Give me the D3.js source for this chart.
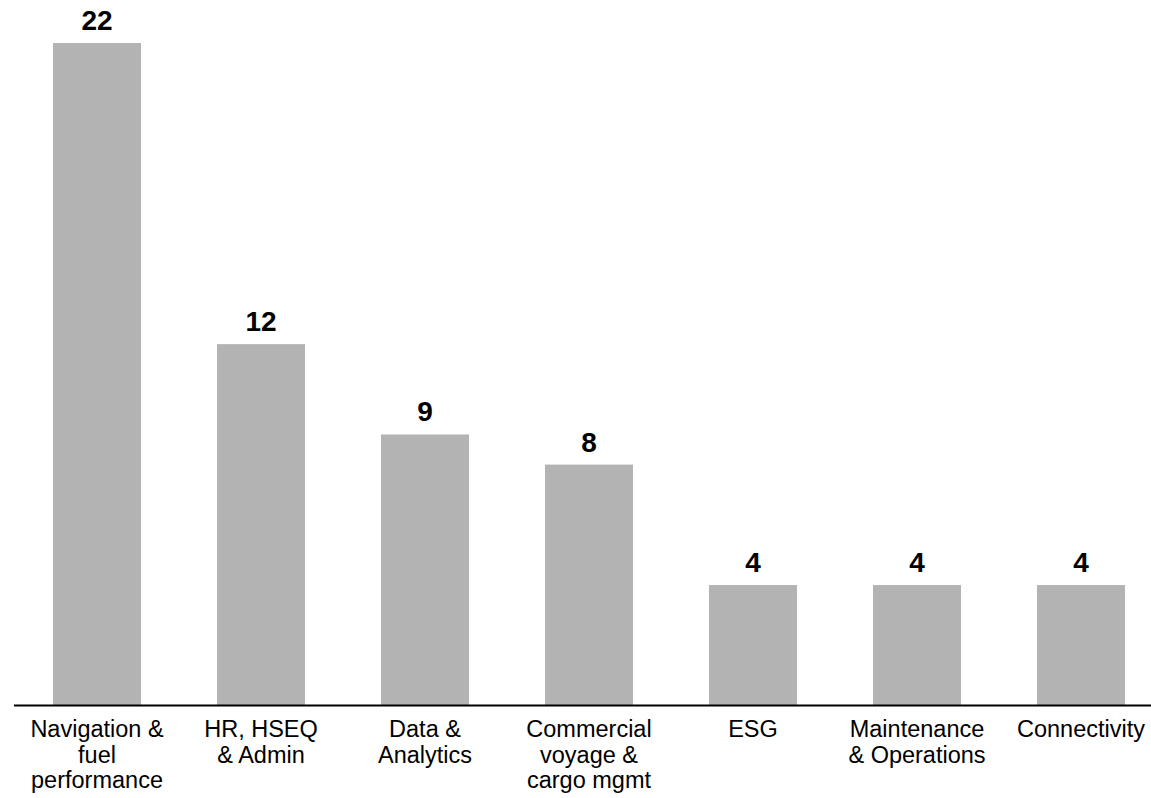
<!DOCTYPE html>
<html>
<head>
<meta charset="utf-8">
<script src="https://cdn.jsdelivr.net/npm/d3@7"></script>
<style>
  html, body { margin: 0; padding: 0; background: #fff; }
  svg { display: block; }
  text { font-family: "Liberation Sans", Arial, sans-serif; fill: #000; }
</style>
</head>
<body>
<svg id="chart" width="1151" height="798"></svg>
<script>
const categories = [
  "Navigation & fuel performance",
  "HR, HSEQ & Admin",
  "Data & Analytics",
  "Commercial voyage & cargo mgmt",
  "ESG",
  "Maintenance & Operations",
  "Connectivity"
];
const categoryLines = [
  ["Navigation &", "fuel", "performance"],
  ["HR, HSEQ", "& Admin"],
  ["Data &", "Analytics"],
  ["Commercial", "voyage &", "cargo mgmt"],
  ["ESG"],
  ["Maintenance", "& Operations"],
  ["Connectivity"]
];
const values = [22, 12, 9, 8, 4, 4, 4];

const svg = d3.select("#chart");
const baseline = 705.5;

const x = d3.scaleBand()
  .domain(categories)
  .range([15, 1163])
  .paddingInner(0.4634)
  .paddingOuter(0.2317);

const y = d3.scaleLinear()
  .domain([0, 22])
  .range([baseline, 43]);

svg.append("g").selectAll("rect")
  .data(values)
  .join("rect")
  .attr("x", (d, i) => x(categories[i]))
  .attr("y", d => y(d))
  .attr("width", x.bandwidth())
  .attr("height", d => baseline - y(d))
  .attr("fill", "#b3b3b3");

svg.append("g").selectAll("text")
  .data(values)
  .join("text")
  .attr("x", (d, i) => x(categories[i]) + x.bandwidth() / 2)
  .attr("y", d => y(d) - 13)
  .attr("text-anchor", "middle")
  .attr("font-size", 28)
  .attr("font-weight", "bold")
  .text(d => d);

svg.append("line")
  .attr("x1", 14).attr("x2", 1151)
  .attr("y1", baseline).attr("y2", baseline)
  .attr("stroke", "#000").attr("stroke-width", 2);

const lab = svg.append("g").selectAll("text")
  .data(categories)
  .join("text")
  .attr("x", d => x(d) + x.bandwidth() / 2)
  .attr("y", 737)
  .attr("text-anchor", "middle")
  .attr("font-size", 23.5);
lab.each(function(d, i) {
  const t = d3.select(this);
  categoryLines[i].forEach((line, j) => {
    t.append("tspan")
      .attr("x", x(d) + x.bandwidth() / 2)
      .attr("y", 737 + j * 25.5)
      .text(line);
  });
});
</script>
</body>
</html>
